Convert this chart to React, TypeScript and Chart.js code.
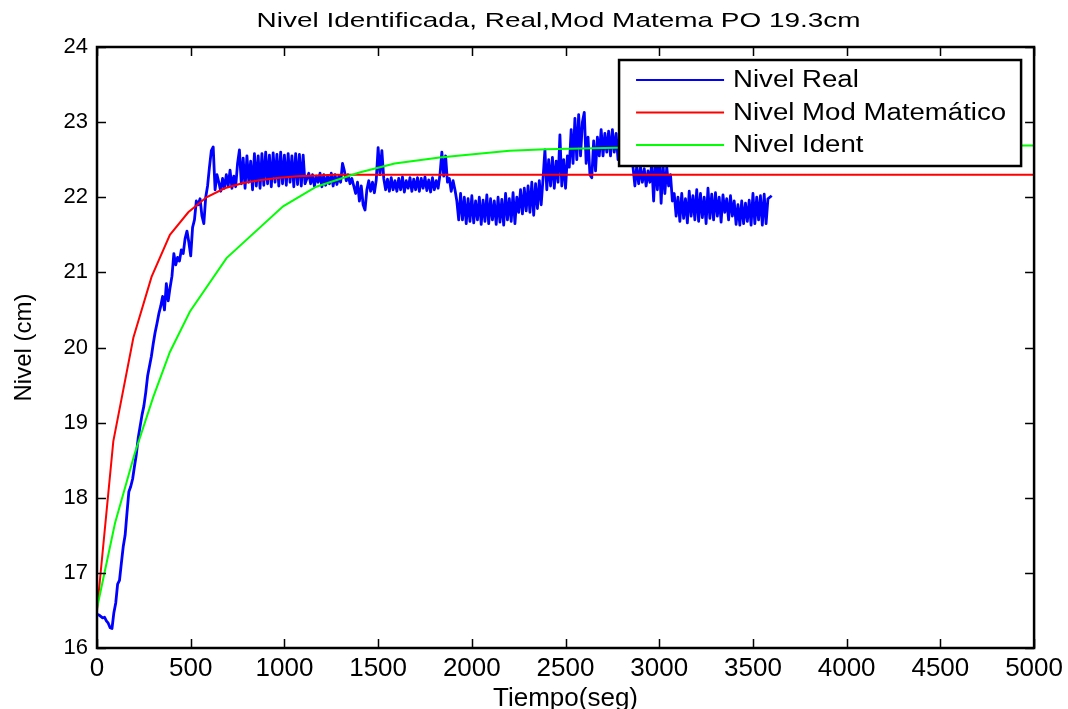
import React, { useEffect, useRef } from "react";
import { Chart, registerables } from "chart.js";

Chart.register(...registerables);

const chartTitle = "Nivel Identificada, Real,Mod Matema PO 19.3cm";
const xAxisTitle = "Tiempo(seg)";
const yAxisTitle = "Nivel (cm)";
const xTicks = [0, 500, 1000, 1500, 2000, 2500, 3000, 3500, 4000, 4500, 5000];
const yTicks = [16, 17, 18, 19, 20, 21, 22, 23, 24];
const seriesLabels = ["Nivel Real", "Nivel Mod Matemático", "Nivel Ident"];
const seriesColors = ["#0000ff", "#ff0000", "#00ff00"];

// measured level, one sample every 10 s from t = 0 to 3600 s
const realStep = 10;
const realLevel = [
  16.45, 16.44, 16.42, 16.40, 16.41, 16.36, 16.33, 16.27, 16.26, 16.47,
  16.60, 16.85, 16.90, 17.13, 17.35, 17.50, 17.80, 18.08, 18.15, 18.25,
  18.42, 18.58, 18.80, 18.95, 19.10, 19.22, 19.40, 19.62, 19.75, 19.88,
  20.05, 20.20, 20.32, 20.45, 20.55, 20.68, 20.50, 20.85, 20.62, 20.80,
  20.95, 21.25, 21.10, 21.20, 21.15, 21.30, 21.25, 21.45, 21.55, 21.40,
  21.22, 21.60, 21.70, 21.95, 21.90, 21.98, 21.75, 21.65, 22.00, 22.15,
  22.40, 22.62, 22.67, 22.10, 22.30, 22.20, 22.08, 22.25, 22.12, 22.30,
  22.15, 22.36, 22.12, 22.28, 22.14, 22.45, 22.63, 22.18, 22.52, 22.12,
  22.55, 22.20, 22.48, 22.10, 22.58, 22.15, 22.55, 22.12, 22.58, 22.16,
  22.60, 22.18, 22.56, 22.14, 22.59, 22.20, 22.57, 22.15, 22.60, 22.18,
  22.56, 22.16, 22.58, 22.20, 22.55, 22.14, 22.58, 22.17, 22.57, 22.15,
  22.56, 22.18, 22.25, 22.32, 22.18, 22.30, 22.15, 22.28, 22.20, 22.32,
  22.14, 22.30, 22.16, 22.28, 22.18, 22.32, 22.15, 22.30, 22.17, 22.28,
  22.20, 22.45, 22.35, 22.22, 22.30, 22.18, 22.25, 22.15, 22.05, 22.20,
  21.95, 22.15, 21.90, 21.83, 22.10, 22.22, 22.08, 22.20, 22.06, 22.23,
  22.66, 22.30, 22.62, 22.25, 22.10, 22.24, 22.08, 22.26, 22.10, 22.22,
  22.08, 22.25, 22.10, 22.27, 22.07, 22.22, 22.12, 22.26, 22.08, 22.24,
  22.10, 22.26, 22.08, 22.25, 22.12, 22.27, 22.09, 22.23, 22.07, 22.26,
  22.10, 22.22, 22.12, 22.30, 22.60, 22.28, 22.55, 22.20, 22.25, 22.08,
  22.22, 22.10, 21.95, 21.70, 22.05, 21.70, 22.00, 21.65, 21.98, 21.68,
  22.02, 21.66, 21.95, 21.70, 22.00, 21.64, 21.96, 21.68, 22.03, 21.65,
  21.98, 21.70, 21.95, 21.64, 22.00, 21.67, 21.97, 21.63, 22.05, 21.70,
  21.98, 21.68, 22.06, 21.65, 22.00, 21.80, 22.10, 21.78, 22.12, 21.82,
  22.15, 21.80, 22.20, 21.76, 22.18, 21.85, 22.22, 21.90, 22.25, 22.63,
  22.10, 22.50, 22.15, 22.53, 22.12, 22.48, 22.20, 22.83, 22.15, 22.50,
  22.12, 22.55, 22.40, 22.90, 22.45, 23.05, 22.50, 23.10, 22.55, 23.00,
  23.13, 22.45, 22.80, 22.30, 22.26, 22.75, 22.35, 22.80, 22.55, 22.90,
  22.55, 22.85, 22.60, 22.88, 22.55, 22.90, 22.60, 22.85, 22.50, 22.80,
  22.55, 22.75, 22.48, 22.70, 22.45, 22.60, 22.40, 22.15, 22.42, 22.18,
  22.40, 22.20, 22.38, 22.15, 22.35, 22.20, 22.45, 21.95, 22.50, 22.10,
  22.55, 21.92, 22.45, 22.05, 22.40, 22.15, 22.30, 21.95, 22.05, 21.75,
  22.00, 21.68, 22.05, 21.72, 21.98, 21.66, 22.08, 21.75, 22.02, 21.70,
  22.10, 21.68, 22.05, 21.73, 22.00, 21.65, 22.12, 21.72, 22.04, 21.70,
  22.06, 21.75, 22.00, 21.67, 22.03, 21.80, 21.98, 21.70, 22.02, 21.75,
  21.95, 21.64, 21.90, 21.63, 21.95, 21.65, 21.92, 21.68, 21.96, 21.63,
  22.05, 21.65, 22.00, 21.70, 22.02, 21.63, 22.04, 21.65, 21.98, 22.00,
  22.02,
];

// mathematical model response
const modTime = [0, 87, 194, 291, 389, 487, 584, 681, 779, 876, 973, 1070, 1168, 1265, 5000];
const modLevel = [16.5, 18.75, 20.13, 20.94, 21.5, 21.8, 22.0, 22.12, 22.19, 22.23, 22.26, 22.28, 22.29, 22.3, 22.3];

// identified model response
const identTime = [0, 96, 200, 300, 389, 496, 691, 993, 1170, 1400, 1588, 1828, 2201, 2397, 2770, 3300, 5000];
const identLevel = [16.53, 17.66, 18.58, 19.34, 19.94, 20.48, 21.19, 21.88, 22.14, 22.33, 22.45, 22.53, 22.62, 22.64, 22.66, 22.68, 22.69];

const FONT = "'Liberation Sans', Arial, Helvetica, sans-serif";

const decorPlugin = {
  id: "matlabDecor",
  afterDraw(chart: any) {
    const ctx = chart.ctx;
    const { left, right, top, bottom } = chart.chartArea;
    const xs = chart.scales.x;
    const ys = chart.scales.y;
    ctx.save();
    // ticks pointing inward on all four sides
    ctx.strokeStyle = "#000";
    ctx.lineWidth = 1.5;
    const tl = 9;
    ctx.beginPath();
    xTicks.forEach((v) => {
      const px = Math.round(xs.getPixelForValue(v)) + 0.5;
      ctx.moveTo(px, bottom);
      ctx.lineTo(px, bottom - tl);
      ctx.moveTo(px, top);
      ctx.lineTo(px, top + tl);
    });
    yTicks.forEach((v) => {
      const py = Math.round(ys.getPixelForValue(v)) + 0.5;
      ctx.moveTo(left, py);
      ctx.lineTo(left + tl, py);
      ctx.moveTo(right, py);
      ctx.lineTo(right - tl, py);
    });
    ctx.stroke();
    // frame
    ctx.lineWidth = 2.5;
    ctx.strokeRect(left, top, right - left, bottom - top);

    // legend
    const lfont = "23px " + FONT;
    const sx = 1.2;
    ctx.font = lfont;
    let maxW = 0;
    seriesLabels.forEach((s) => (maxW = Math.max(maxW, ctx.measureText(s).width * sx)));
    const lineLen = 88;
    const padL = 17;
    const gap = 9;
    const padR = 15;
    const rowH = 32.5;
    const boxW = padL + lineLen + gap + maxW + padR;
    const boxH = 20 + rowH * (seriesLabels.length - 1) + 21;
    const bx = right - 13 - boxW;
    const by = top + 13;
    ctx.fillStyle = "#fff";
    ctx.fillRect(bx, by, boxW, boxH);
    ctx.lineWidth = 2.5;
    ctx.strokeStyle = "#000";
    ctx.strokeRect(bx, by, boxW, boxH);
    seriesLabels.forEach((s, i) => {
      const cy = by + 20 + rowH * i;
      ctx.strokeStyle = seriesColors[i];
      ctx.lineWidth = 2;
      ctx.beginPath();
      ctx.moveTo(bx + padL, cy);
      ctx.lineTo(bx + padL + lineLen, cy);
      ctx.stroke();
      ctx.save();
      ctx.translate(bx + padL + lineLen + gap, cy);
      ctx.scale(sx, 1);
      ctx.fillStyle = "#000";
      ctx.textBaseline = "middle";
      ctx.textAlign = "left";
      ctx.fillText(s, 0, 1);
      ctx.restore();
    });

    // title
    ctx.save();
    ctx.font = "21px " + FONT;
    ctx.translate((left + right) / 2 - 7, 27);
    ctx.scale(1.33, 1);
    ctx.fillStyle = "#000";
    ctx.textAlign = "center";
    ctx.textBaseline = "alphabetic";
    ctx.fillText(chartTitle, 0, 0);
    ctx.restore();
    ctx.restore();
  },
};

export default function App() {
  const ref = useRef<HTMLCanvasElement | null>(null);
  useEffect(() => {
    document.body.style.margin = "0";
    const canvas = ref.current;
    if (!canvas) return;
    const chart = new Chart(canvas, {
      type: "line",
      data: {
        datasets: [
          {
            label: seriesLabels[0],
            data: realLevel.map((v, i) => ({ x: i * realStep, y: v })),
            borderColor: seriesColors[0],
            backgroundColor: seriesColors[0],
            borderWidth: 2.8,
            borderJoinStyle: "round",
            pointRadius: 0,
            tension: 0,
            fill: false,
            order: 3,
          },
          {
            label: seriesLabels[1],
            data: modTime.map((t, i) => ({ x: t, y: modLevel[i] })),
            borderColor: seriesColors[1],
            backgroundColor: seriesColors[1],
            borderWidth: 2,
            pointRadius: 0,
            tension: 0,
            fill: false,
            order: 2,
          },
          {
            label: seriesLabels[2],
            data: identTime.map((t, i) => ({ x: t, y: identLevel[i] })),
            borderColor: seriesColors[2],
            backgroundColor: seriesColors[2],
            borderWidth: 2,
            pointRadius: 0,
            tension: 0,
            fill: false,
            order: 1,
          },
        ],
      },
      options: {
        responsive: false,
        animation: false,
        devicePixelRatio: 1,
        layout: { padding: { top: 47, right: 33, left: 0, bottom: 0 } },
        plugins: {
          legend: { display: false },
          title: { display: false },
          tooltip: { enabled: false },
        },
        scales: {
          x: {
            type: "linear",
            min: 0,
            max: 5000,
            grid: { display: false, drawTicks: false },
            border: { display: false },
            afterBuildTicks: (s: any) => {
              s.ticks = xTicks.map((v) => ({ value: v }));
            },
            afterFit: (s: any) => {
              s.height = 61;
            },
            ticks: {
              color: "#000",
              padding: 5,
              maxRotation: 0,
              autoSkip: false,
              font: { family: FONT, size: 26 },
              callback: (v: any) => String(v),
            },
            title: {
              display: true,
              text: xAxisTitle,
              color: "#000",
              font: { family: FONT, size: 26 },
              padding: { top: 0, bottom: -5 },
            },
          },
          y: {
            type: "linear",
            min: 16,
            max: 24,
            grid: { display: false, drawTicks: false },
            border: { display: false },
            afterBuildTicks: (s: any) => {
              s.ticks = yTicks.map((v) => ({ value: v }));
            },
            afterFit: (s: any) => {
              s.width = 97;
            },
            ticks: {
              color: "#000",
              padding: 9,
              autoSkip: false,
              font: { family: FONT, size: 22 },
              callback: (v: any) => String(v),
            },
            title: {
              display: true,
              text: yAxisTitle,
              color: "#000",
              font: { family: FONT, size: 24 },
              padding: { top: 10, bottom: 0 },
            },
          },
        },
      },
      plugins: [decorPlugin],
    });
    return () => chart.destroy();
  }, []);
  return (
    <div style={{ position: "absolute", left: 0, top: 0, width: 1068, height: 709, background: "#fff" }}>
      <canvas ref={ref} width={1068} height={709} style={{ width: 1068, height: 709, display: "block" }} />
    </div>
  );
}
